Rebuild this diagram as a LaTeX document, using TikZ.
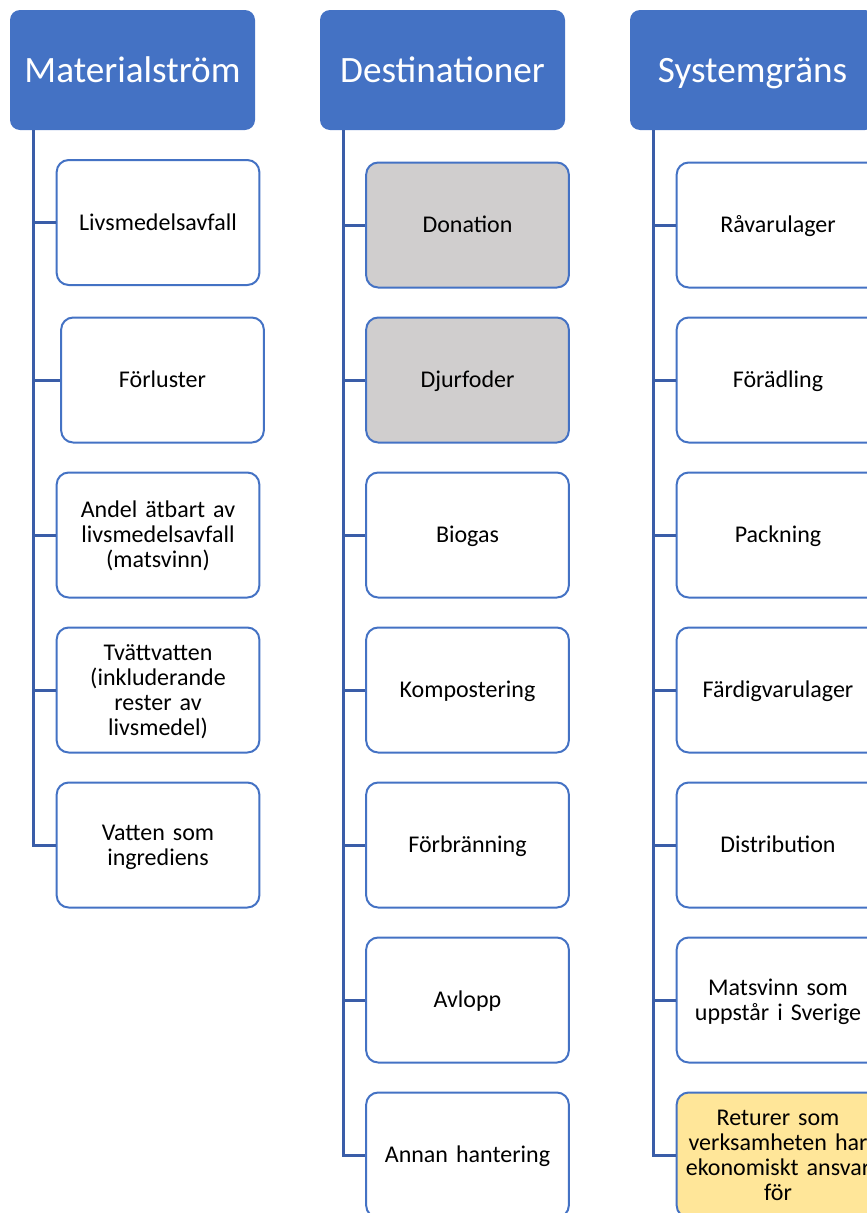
\documentclass[tikz,border=0pt]{standalone}
\usepackage{fontspec}
\setmainfont{Carlito}
\usepackage{tikz}
\usetikzlibrary{positioning}
\definecolor{hdrblue}{HTML}{4472C4}
\definecolor{stemblue}{HTML}{3A5DA8}
\definecolor{donegray}{HTML}{D0CECE}
\definecolor{retyellow}{HTML}{FFE699}
\newcommand{\topstrut}{\rule{0pt}{20pt}}
\newcommand{\botstrut}{\rule[-4.5pt]{0pt}{4.5pt}}
\tikzset{
	hdr/.style={rectangle, rounded corners=10pt, fill=hdrblue, text=white, minimum width=245pt, minimum height=120pt, text height=28.6pt, text depth=4.6pt, font=\fontsize{37.2}{41}\selectfont},
	leaf/.style={rectangle, rounded corners=12pt, draw=hdrblue, line width=2pt, fill=white, minimum width=200pt, minimum height=125pt, text width=196pt, align=center, font=\fontsize{24}{25}\selectfont, execute at begin node=\topstrut, execute at end node=\botstrut},
	stem/.style={stemblue, line width=3pt}
}

\begin{document}
\begin{tikzpicture}[x=1pt,y=-1pt]

	\useasboundingbox (0,0) rectangle (867,1213);
	\clip (0,0) rectangle (867,1213);

	\node[hdr] (hmat) at (132.5,70) {Materialström};
	\node[hdr] (hdest) at (442.5,70) {Destinationer};
	\node[hdr] (hsys) at (752.5,70) {Systemgräns};

	% Materialström
	\node[leaf] (m1) at (158,222.5) {Livsmedelsavfall};
	\node[leaf] (m2) at (162.5,380) {Förluster};
	\node[leaf] (m3) at (158,535) {Andel ätbart av\\livsmedelsavfall\\(matsvinn)};
	\node[leaf] (m4) at (158,690) {Tvättvatten\\(inkluderande\\rester av\\livsmedel)};
	\node[leaf] (m5) at (158,845) {Vatten som\\ingrediens};

	% Destinationer
	\node[leaf, fill=donegray] (d1) at (467.5,225) {Donation};
	\node[leaf, fill=donegray] (d2) at (467.5,380) {Djurfoder};
	\node[leaf] (d3) at (467.5,535) {Biogas};
	\node[leaf] (d4) at (467.5,690) {Kompostering};
	\node[leaf] (d5) at (467.5,845) {Förbränning};
	\node[leaf] (d6) at (467.5,1000) {Avlopp};
	\node[leaf] (d7) at (467.5,1155) {Annan hantering};

	% Systemgräns
	\node[leaf] (s1) at (778,225) {Råvarulager};
	\node[leaf] (s2) at (778,380) {Förädling};
	\node[leaf] (s3) at (778,535) {Packning};
	\node[leaf] (s4) at (778,690) {Färdigvarulager};
	\node[leaf] (s5) at (778,845) {Distribution};
	\node[leaf] (s6) at (778,1000) {Matsvinn som\\uppstår i Sverige};
	\node[leaf, fill=retyellow] (s7) at (778,1155) {Returer som\\verksamheten har\\ekonomiskt ansvar\\för};

	\foreach \i in {1,...,5}
		\draw[stem] ([xshift=24pt]hmat.south west) |- (m\i.west);
	\foreach \i in {1,...,7} {
		\draw[stem] ([xshift=24pt]hdest.south west) |- (d\i.west);
		\draw[stem] ([xshift=24pt]hsys.south west) |- (s\i.west);
	}

\end{tikzpicture}
\end{document}
